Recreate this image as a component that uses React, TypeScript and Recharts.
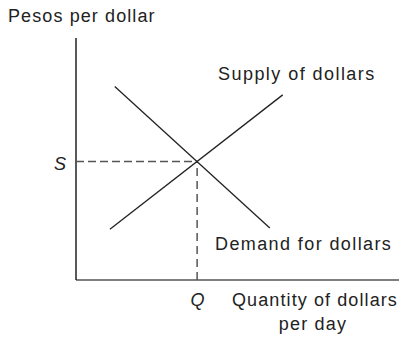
import React from 'react';
import { ComposedChart, Line, XAxis, YAxis, ReferenceLine, Customized } from 'recharts';

// Supply and demand curves for dollars (quantity, pesos per dollar)
const supplyQty = [1.05, 6.4];
const supplyPrice = [2.1, 7.65];
const demandQty = [1.2, 6.0];
const demandPrice = [8.0, 2.15];

// Equilibrium point
const eqQty = 3.75;
const eqPrice = 4.9;

const supplyData = supplyQty.map((q, i) => ({ q, p: supplyPrice[i] }));
const demandData = demandQty.map((q, i) => ({ q, p: demandPrice[i] }));

const FONT = '"Liberation Sans", Arial, Helvetica, sans-serif';

function Labels() {
  const base = { fontFamily: FONT, fontSize: 18, fill: '#222', letterSpacing: 1.2 };
  return (
    <g>
      <text x={8} y={22} {...base} letterSpacing={1.1}>Pesos per dollar</text>
      <text x={218} y={80} {...base} letterSpacing={1.45}>Supply of dollars</text>
      <text x={215} y={250} {...base} letterSpacing={1.4}>Demand for dollars</text>
      <text x={54} y={170} {...base} fontStyle="italic">S</text>
      <text x={198} y={306} {...base} fontStyle="italic" textAnchor="middle">Q</text>
      <text x={315} y={306} {...base} letterSpacing={1.1} textAnchor="middle">Quantity of dollars</text>
      <text x={313} y={330} {...base} textAnchor="middle">per day</text>
    </g>
  );
}

export default function App() {
  return (
    <div style={{ position: 'absolute', left: 0, top: 0, width: 399, height: 337, background: '#fff' }}>
      <ComposedChart width={399} height={337} margin={{ top: 38, right: 0, left: 76, bottom: 57 }}>
        <XAxis type="number" dataKey="q" domain={[0, 10]} hide allowDataOverflow />
        <YAxis type="number" dataKey="p" domain={[0, 10]} hide allowDataOverflow />
        {/* axes */}
        <ReferenceLine y={0} stroke="#555" strokeWidth={1.6} />
        <ReferenceLine x={0} stroke="#222" strokeWidth={1.5} />
        {/* equilibrium guides */}
        <ReferenceLine
          segment={[{ x: 0, y: eqPrice }, { x: eqQty, y: eqPrice }]}
          stroke="#555"
          strokeWidth={1.5}
          strokeDasharray="8 4"
        />
        <ReferenceLine
          segment={[{ x: eqQty, y: 0 }, { x: eqQty, y: eqPrice }]}
          stroke="#555"
          strokeWidth={1.5}
          strokeDasharray="8 5"
        />
        <Line data={supplyData} dataKey="p" type="linear" stroke="#222" strokeWidth={1.3} dot={false} isAnimationActive={false} />
        <Line data={demandData} dataKey="p" type="linear" stroke="#222" strokeWidth={1.3} dot={false} isAnimationActive={false} />
        <Customized component={Labels} />
      </ComposedChart>
    </div>
  );
}
